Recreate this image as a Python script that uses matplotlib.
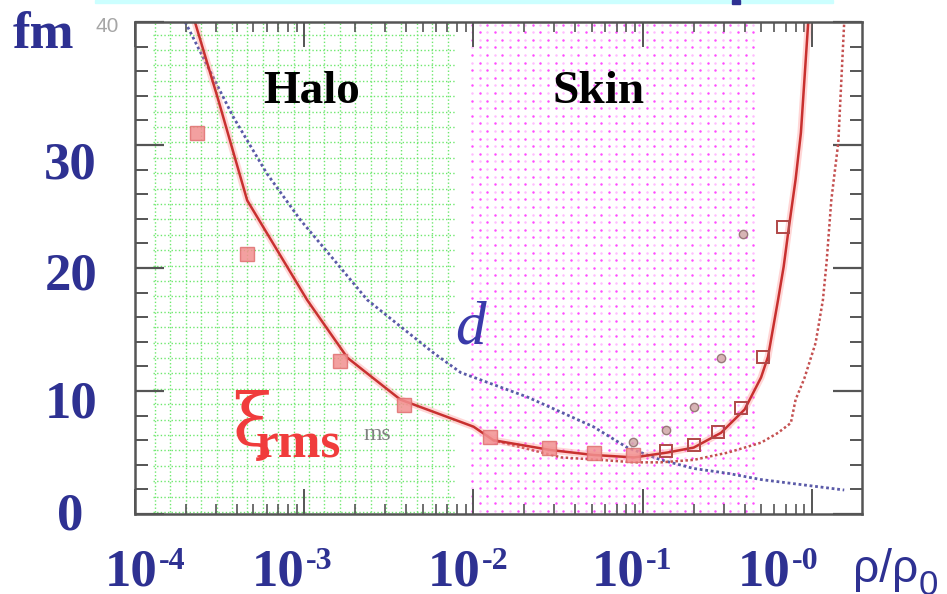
import numpy as np
import matplotlib
matplotlib.use("Agg")
import matplotlib.pyplot as plt
from matplotlib.patches import Rectangle
from matplotlib.ticker import MultipleLocator, LogLocator

# ---------------- data ----------------
# d : mean inter-particle distance (blue dotted)
d_x = [1.98e-4, 3.8e-4, 6.0e-4, 9.5e-4, 1.49e-3, 2.36e-3, 5.8e-3, 8.4e-3,
       2.09e-2, 5.1e-2, 8.1e-2, 0.128, 0.20, 0.32, 0.50, 1.55]
d_y = [40.0, 32.3, 27.7, 23.9, 20.7, 17.4, 13.1, 11.5,
       9.5, 7.1, 5.4, 4.4, 3.7, 3.3, 2.8, 1.95]

# xi_rms : solid red curve
xi_x = [2.26e-4, 3.1e-4, 4.6e-4, 1.04e-3, 1.80e-3, 3.7e-3, 1.0e-2, 1.31e-2,
        2.86e-2, 5.1e-2, 8.9e-2, 0.14, 0.20, 0.29, 0.40, 0.50, 0.55, 0.63,
        0.68, 0.73, 0.80, 0.86, 0.95]
xi_y = [40.0, 33.7, 25.5, 17.4, 12.7, 9.3, 7.1, 6.0,
        5.2, 4.8, 4.6, 5.0, 5.4, 6.6, 8.5, 11.1, 12.8, 17.4,
        20.1, 23.3, 27.2, 31.0, 40.0]

# second (dotted red) curve
alt_x = [1.3e-2, 3.3e-2, 5.6e-2, 8.9e-2, 0.128, 0.20, 0.32, 0.50, 0.63,
         0.75, 0.80, 0.90, 1.05, 1.16, 1.22, 1.30, 1.43, 1.55]
alt_y = [6.0, 4.6, 4.4, 4.2, 4.2, 4.4, 5.0, 5.8, 6.6,
         7.4, 9.3, 11.0, 13.9, 17.4, 20.5, 25.5, 30.2, 40.0]

# filled squares
sq_x = [2.33e-4, 4.6e-4, 1.63e-3, 3.86e-3, 1.26e-2, 2.78e-2, 5.13e-2, 8.7e-2]
sq_y = [31.0, 21.1, 12.4, 8.9, 6.3, 5.4, 5.0, 4.8]

# open squares
osq_x = [0.137, 0.20, 0.28, 0.38, 0.51, 0.67]
osq_y = [5.1, 5.6, 6.7, 8.6, 12.8, 23.3]

# circles
circ_x = [0.087, 0.137, 0.20, 0.29, 0.39]
circ_y = [5.85, 6.8, 8.7, 12.7, 22.8]

# labels
x_exponents = ["-4", "-3", "-2", "-1", "-0"]
y_labels = ["30", "20", "10", "0"]

# ---------------- figure ----------------
W, H = 947, 594
BLUE = "#2e3192"
RED = "#f03c3c"
SERIF = ["Liberation Serif", "DejaVu Serif"]
SANS = ["Liberation Sans", "DejaVu Sans"]


def fx(x):
    return x / W


def fy(y):
    return 1 - y / H


fig = plt.figure(figsize=(W / 100, H / 100), dpi=100)
fig.patch.set_facecolor("white")
ax = fig.add_axes([fx(135), fy(514), 727 / W, 492 / H])
ax.set_xscale("log")
ax.set_xlim(1e-4, 10 ** (727 / 169.25 - 4))
ax.set_ylim(0, 40)
ax.set_facecolor("white")

# --- background patterns (decorative) ---
gx0, gx1 = 18 / 727, 320 / 727
for xv in np.arange(gx0 + 2 / 727, gx1 + 1e-6, 15.4 / 727):
    ax.plot([xv, xv], [0.004, 1.0], transform=ax.transAxes, color="#6ee86e",
            lw=1.0, ls=(0, (1, 1.6)), zorder=1)
for yv in np.arange(0.004, 1.0001, 15.4 / 492):
    ax.plot([gx0, gx1], [yv, yv], transform=ax.transAxes, color="#6ee86e",
            lw=1.0, ls=(0, (1, 1.6)), zorder=1)

px0, px1 = 337 / 727, 622 / 727
pxs = np.arange(px0, px1, 7.6 / 727)
pys = np.arange(0.006, 0.998, 7.6 / 492)
PX, PY = np.meshgrid(pxs, pys)
I, J = np.meshgrid(np.arange(len(pxs)), np.arange(len(pys)))
bright = ((I + J) % 2 == 0)
ax.scatter(PX[bright], PY[bright], s=3.2, color="#ff4cff", lw=0,
           transform=ax.transAxes, zorder=1)
ax.scatter(PX[~bright], PY[~bright], s=3.2, color="#ffbcff", lw=0,
           transform=ax.transAxes, zorder=1)

# --- curves ---
ax.plot(d_x, d_y, color="#5a5aa8", lw=2.0, ls=(0, (1, 1)), zorder=3)
ax.plot(alt_x, alt_y, color="#c45050", lw=1.8, ls=(0, (1, 1)), zorder=3)
ax.plot(xi_x, xi_y, color="#ff8a8a", lw=5, alpha=0.35, zorder=3,
        solid_capstyle="butt")
ax.plot(xi_x, xi_y, color="#c8302f", lw=1.8, zorder=4)

# --- markers ---
ax.plot(sq_x, sq_y, ls="none", marker="s", ms=10, mfc="#f29090",
        mec="#e07070", mew=1.0, alpha=0.85, zorder=5)
ax.plot(osq_x, osq_y, ls="none", marker="s", ms=9, mfc="none",
        mec="#b04848", mew=1.4, zorder=5)
ax.plot(circ_x, circ_y, ls="none", marker="o", ms=6, mfc="#d0a8a8",
        mec="#8a6a6a", mew=1.0, alpha=0.85, zorder=5)

# --- axes styling ---
ax.yaxis.set_major_locator(MultipleLocator(10))
ax.yaxis.set_minor_locator(MultipleLocator(2))
ax.xaxis.set_major_locator(LogLocator(base=10, numticks=10))
ax.xaxis.set_minor_locator(LogLocator(base=10, subs=np.arange(2, 10), numticks=20))
ax.tick_params(axis="both", which="both", direction="in", top=True, right=True,
               labelbottom=False, labelleft=False, colors="#555555")
ax.tick_params(axis="y", which="major", length=21, width=1.6)
ax.tick_params(axis="y", which="minor", length=9, width=1.4)
ax.tick_params(axis="x", which="major", length=18, width=1.4)
ax.tick_params(axis="x", which="minor", length=7, width=1.2)
for s in ax.spines.values():
    s.set_color("#555555")
    s.set_linewidth(1.8)
    s.set_zorder(6)

# --- decorations on figure ---
fig.patches.append(Rectangle((fx(95), fy(3)), (833 - 95) / W, 3 / H,
                             transform=fig.transFigure, color="#ccffff", zorder=0))
fig.patches.append(Rectangle((fx(732), fy(4)), 8 / W, 4 / H,
                             transform=fig.transFigure, color=BLUE, zorder=0))

fig.text(fx(107), fy(32), "40", fontsize=15, color="#909090", ha="center",
         va="baseline", family=SANS, alpha=0.8)

# y labels
fig.text(fx(13), fy(48), "fm", fontsize=38, fontweight="bold", family=SERIF,
         color=BLUE, ha="left", va="baseline")
for lab, yb in zip(y_labels, [178, 290, 417, 530]):
    if lab == "0":
        fig.text(fx(70.5), fy(yb), lab, fontsize=38, fontweight="bold",
                 family=SERIF, color=BLUE, ha="center", va="baseline")
    else:
        fig.text(fx(97), fy(yb), lab, fontsize=38, fontweight="bold",
                 family=SERIF, color=BLUE, ha="right", va="baseline")

# x labels
for exp, xl in zip(x_exponents, [105, 252, 428, 592, 738]):
    t = fig.text(fx(xl), fy(585), "10", fontsize=38, fontweight="bold",
                 family=SERIF, color=BLUE, ha="left", va="baseline")
    ax.annotate(exp, xy=(1, 1), xycoords=t, xytext=(0.5, 1),
                textcoords="offset points", fontsize=23, fontweight="bold",
                family=SERIF, color=BLUE, ha="left", va="top",
                annotation_clip=False)

t = fig.text(fx(853), fy(582), "ρ/ρ", fontsize=33, family=SANS, color=BLUE,
             ha="left", va="baseline")
ax.annotate("0", xy=(1, 0), xycoords=t, xytext=(0, -2),
            textcoords="offset points", fontsize=25, family=SANS, color=BLUE,
            ha="left", va="baseline", annotation_clip=False)

# region labels
fig.text(fx(263), fy(103), "Halo", fontsize=34, fontweight="bold",
         family=SERIF, color="black", ha="left", va="baseline")
fig.text(fx(552), fy(103), "Skin", fontsize=34, fontweight="bold",
         family=SERIF, color="black", ha="left", va="baseline")

# curve labels
fig.text(fx(455), fy(343), "d", fontsize=44, style="italic", family=SERIF,
         color="#3a3aaa", ha="left", va="baseline")
fig.text(fx(232), fy(446), "ξ", fontsize=52, family=["DejaVu Serif"],
         color=RED, ha="left", va="baseline")
fig.text(fx(256), fy(457), "rms", fontsize=37, fontweight="bold",
         family=SERIF, color=RED, ha="left", va="baseline")
fig.text(fx(363), fy(440), "ms", fontsize=17, family=SERIF, color="#808080",
         ha="left", va="baseline")

fig.savefig("out.png", dpi=100, facecolor="white")
